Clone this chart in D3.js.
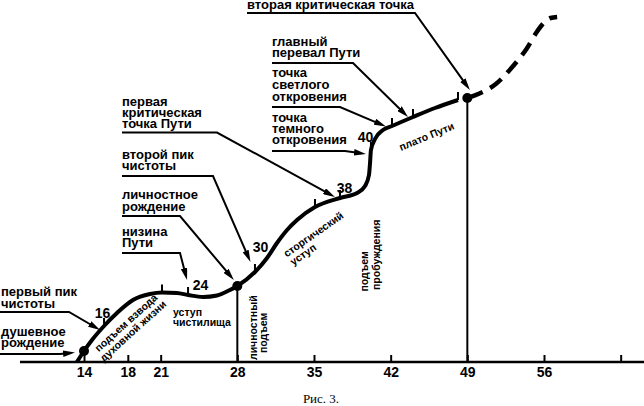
<!DOCTYPE html>
<html><head><meta charset="utf-8">
<script src="https://cdn.jsdelivr.net/npm/d3@7"></script>
<style>
html,body{margin:0;padding:0;background:#fff;}
svg{display:block;}
</style></head><body>
<svg id="c" width="644" height="406"></svg>
<script>
// ---------- data ----------
const axisTicks  = [14, 18, 21, 28, 35, 42, 49, 56, 63];
const axisLabels = ["14","18","21","28","35","42","49","56",""];

// main (solid) path of life: age -> level
const curveAges   = [13.36, 14, 14.73, 15.83, 17.01, 18.47, 20.03, 21.12, 22.49, 23.5, 24.87, 26.14, 27.33, 28, 29.61, 30.71, 31.62, 32.54, 33.45, 35.09, 37.37, 38.93, 39.66, 40.02, 40.11, 40.2, 40.57, 41.3, 42.12, 44.04, 46.05, 48.15];
const curveLevels = [0, 1.1, 2.2, 3.6, 4.9, 6.2, 6.8, 6.95, 6.9, 6.7, 6.5, 6.65, 7.2, 7.6, 9.0, 10.4, 11.9, 13.2, 14.2, 15.5, 16.4, 16.9, 17.6, 18.7, 19.8, 21.2, 22.3, 23.2, 23.6, 24.5, 25.4, 26.2];

// future (dashed) continuation
const futureAges   = [49, 50.1, 51.6, 53.1, 54.4, 55.4, 56.1, 56.6, 57.2];
const futureLevels = [26.4, 26.85, 27.8, 29.5, 31.3, 33.1, 34.05, 34.4, 34.5];

// tick marks on the path (ages as drawn) and their labels
const tickAges   = [15.83, 21.12, 23.5, 29.61, 35.09, 37.37, 40.2, 42.12, 44.04, 48.15];
const tickLabels = ["16", "", "24", "30", "", "38", "40", "", "", ""];

// key points (dots); those with a drop line
const dotAges  = [14, 28, 49];
const dropAges = [28, 49];

// annotation texts
const noteTexts = [
  ["душевное","рождение"],
  ["первый пик","чистоты"],
  ["низина","Пути"],
  ["личностное","рождение"],
  ["второй пик","чистоты"],
  ["первая","критическая","точка Пути"],
  ["точка","темного","откровения"],
  ["точка","светлого","откровения"],
  ["главный","перевал Пути"],
  ["вторая критическая точка"]
];
const noteTargets = [14, 15.83, 23.5, 28, 29.61, 37.37, 40.2, 42.12, 44.04, 49];

const segmentTexts = [
  ["подъем взвода","духовной жизни"],
  ["уступ","чистилища"],
  ["личностный","подъем"],
  ["сторгический","уступ"],
  ["подъем","пробуждения"],
  ["плато Пути"]
];
const captionText = "Рис. 3.";

// ---------- layout (positions / styles) ----------
const W = 644, H = 406;
const FONT = "'Liberation Sans', Arial, Helvetica, sans-serif";
const tickLabelOff = {"16":[-1.5,-8], "24":[12.5,-5], "30":[5.5,-20], "38":[4.5,-5], "40":[-5.5,-8]};
const noteLayout = [
  {x:1,   base:[336,347],       uy:354,   ux0:0,   ex:60,  off:[-9,1.5]},
  {x:1,   base:[296,307.5],     uy:312,   ux0:0,   ex:69,  off:[-4,4]},
  {x:122, base:[236,247],       uy:253,   ux0:122, ex:180, off:[-1,-15]},
  {x:122, base:[199,210.5],     uy:216,   ux0:122, ex:180, off:[-3.5,-6]},
  {x:122, base:[159,170],       uy:176,   ux0:122, ex:213, off:[-4.5,-10]},
  {x:122, base:[106,117,128],   uy:132.5, ux0:122, ex:217, off:[-5,-1]},
  {x:272, base:[122,133,144],   uy:151,   ux0:272, ex:345, off:[-5,4]},
  {x:272, base:[77,89,100.5],   uy:107,   ux0:272, ex:340, off:[-6,0.5]},
  {x:272, base:[46,57],         uy:63,    ux0:272, ex:353, off:[-5,0]},
  {x:247, base:[8.5],           uy:13,    ux0:247, ex:415, off:[2.5,-8]}
];
const segLayout = [
  {x:98.7,  y:352.2, rot:-42,   off:[[0,0],[-3,10.8]]},
  {x:173,   y:315.5, rot:0,     off:[[0,0],[0,10.5]]},
  {x:256.5, y:360,   rot:-90,   off:[[0,0],[7,10]]},
  {x:286.7, y:257.5, rot:-35,   off:[[0,0],[0.7,10.6]]},
  {x:368,   y:291.5, rot:-90,   off:[[0,0],[1.5,12]]},
  {x:401,   y:151,   rot:-22.5, off:[[0,0]]}
];

// ---------- scales ----------
const x = d3.scaleLinear().domain([14, 56]).range([84, 544]);
const y = d3.scaleLinear().domain([0, 35]).range([362, 12]);

const svg = d3.select("#c");
svg.append("rect").attr("width", W).attr("height", H).attr("fill", "#fff");

const defs = svg.append("defs");
defs.append("marker").attr("id","ah")
  .attr("viewBox","0 0 12 6.5").attr("refX",7).attr("refY",3.25)
  .attr("markerWidth",12).attr("markerHeight",6.5)
  .attr("markerUnits","userSpaceOnUse").attr("orient","auto")
  .append("path").attr("d","M0,0L12,3.25L0,6.5Z").attr("fill","#000");

const curvePts  = curveAges.map((a,i) => [a, curveLevels[i]]);
const futurePts = futureAges.map((a,i) => [a, futureLevels[i]]);
function levelAt(age){
  let i = curveAges.indexOf(age);
  if (i >= 0) return curveLevels[i];
  i = futureAges.indexOf(age);
  return futureLevels[i];
}

// ---------- axis ----------
svg.append("line").attr("x1",20).attr("x2",W).attr("y1",y(0)).attr("y2",y(0))
  .attr("stroke","#000").attr("stroke-width",2.5);
const axis = d3.axisBottom(x).tickValues(axisTicks)
  .tickFormat(d => axisLabels[axisTicks.indexOf(d)])
  .tickSizeInner(-7).tickSizeOuter(0).tickPadding(5);
const gAx = svg.append("g").attr("transform",`translate(0,${y(0)})`).call(axis);
gAx.select(".domain").remove();
gAx.selectAll(".tick line").attr("stroke","#000").attr("stroke-width",2);
gAx.selectAll(".tick text").attr("font-family",FONT).attr("font-size",14)
  .attr("font-weight","bold").attr("fill","#000");

// ---------- drop lines ----------
svg.selectAll("line.drop").data(dropAges).join("line").attr("class","drop")
  .attr("x1",d=>x(d)).attr("x2",d=>x(d)).attr("y1",d=>y(levelAt(d))).attr("y2",y(0))
  .attr("stroke","#000").attr("stroke-width",2);

// ---------- path ----------
const line = d3.line().x(d=>x(d[0])).y(d=>y(d[1])).curve(d3.curveMonotoneX);
svg.append("path").attr("d", line(curvePts)).attr("fill","none")
  .attr("stroke","#000").attr("stroke-width",4).attr("stroke-linejoin","round");
svg.append("path").attr("d", line(futurePts)).attr("fill","none")
  .attr("stroke","#000").attr("stroke-width",4.5)
  .attr("stroke-dasharray","14.5,8.5").attr("stroke-dashoffset",21);

// ticks on path
svg.selectAll("line.ptick").data(tickAges).join("line").attr("class","ptick")
  .attr("x1",d=>x(d)).attr("x2",d=>x(d))
  .attr("y1",d=>y(levelAt(d))-8).attr("y2",d=>y(levelAt(d)))
  .attr("stroke","#000").attr("stroke-width",2);
svg.selectAll("text.plab").data(tickAges.map((a,i)=>({a, t:tickLabels[i]})).filter(d=>d.t))
  .join("text").attr("class","plab")
  .attr("x",d=>x(d.a)+tickLabelOff[d.t][0]).attr("y",d=>y(levelAt(d.a))+tickLabelOff[d.t][1])
  .attr("text-anchor","middle").attr("font-family",FONT).attr("font-size",14)
  .attr("font-weight","bold").text(d=>d.t);

// dots
svg.selectAll("circle.dot").data(dotAges).join("circle").attr("class","dot")
  .attr("cx",d=>x(d)).attr("cy",d=>y(levelAt(d))).attr("r",5).attr("fill","#000");

// ---------- annotations ----------
noteTexts.forEach((lines, i) => {
  const L = noteLayout[i];
  const g = svg.append("g");
  lines.forEach((t, j) => {
    g.append("text").attr("x",L.x).attr("y",L.base[j]).attr("font-family",FONT)
      .attr("font-size",13).attr("font-weight","bold").text(t);
  });
  const a = noteTargets[i];
  const tx = x(a) + L.off[0], ty = y(levelAt(a)) + L.off[1];
  const dx = tx - L.ex, dy = ty - L.uy, len = Math.hypot(dx, dy);
  const endX = tx - 5*dx/len, endY = ty - 5*dy/len;
  g.append("path").attr("d",`M${L.ux0},${L.uy}L${L.ex},${L.uy}L${endX},${endY}`)
    .attr("fill","none").attr("stroke","#000").attr("stroke-width",2)
    .attr("marker-end","url(#ah)");
});

// segment names
segmentTexts.forEach((lines, i) => {
  const L = segLayout[i];
  const g = svg.append("g").attr("transform",`translate(${L.x},${L.y}) rotate(${L.rot})`);
  lines.forEach((t, j) => {
    g.append("text").attr("x",L.off[j][0]).attr("y",L.off[j][1]).attr("font-family",FONT)
      .attr("font-size",10.5).attr("font-weight","bold").text(t);
  });
});

// caption
svg.append("text").attr("x",321).attr("y",403).attr("text-anchor","middle")
  .attr("font-family","'Liberation Serif', 'Times New Roman', serif").attr("font-size",13)
  .text(captionText);
</script>
</body></html>
